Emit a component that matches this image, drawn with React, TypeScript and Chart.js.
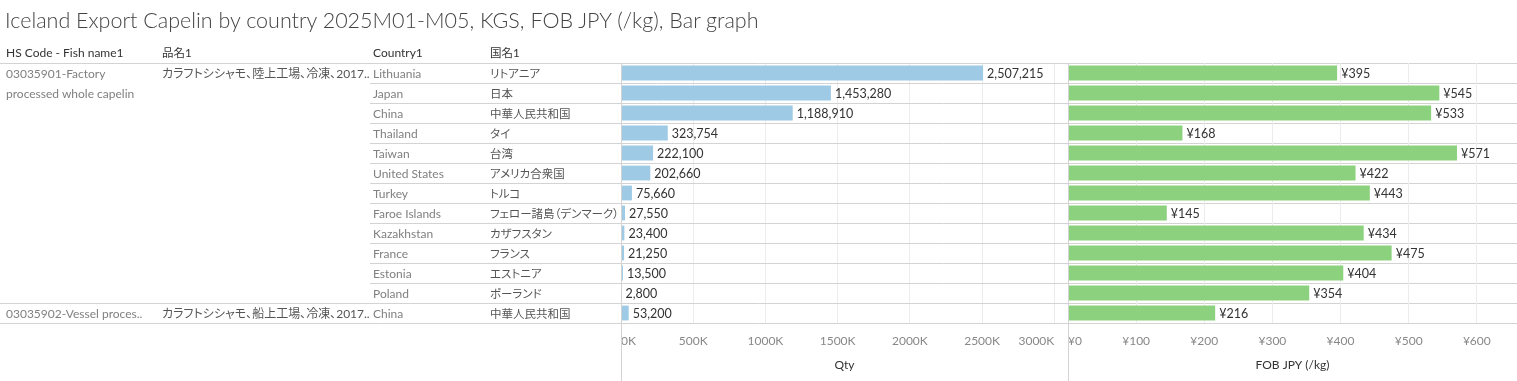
import React, { useEffect, useRef, useState } from 'react';
import { Chart, registerables } from 'chart.js';

Chart.register(...registerables);

// ---------- data ----------
const TITLE = 'Iceland Export Capelin by country 2025M01-M05, KGS, FOB JPY (/kg), Bar graph';
const headers = ['HS Code - Fish name1', '品名1', 'Country1', '国名1'];
const hsCodeLines = [['03035901-Factory', 'processed whole capelin'], ['03035902-Vessel proces..']];
const productNames = ['カラフトシシャモ、陸上工場、冷凍、2017..', 'カラフトシシャモ、船上工場、冷凍、2017..'];
const groupOfRow = [0, 0, 0, 0, 0, 0, 0, 0, 0, 0, 0, 0, 1];
const countries = [
  'Lithuania', 'Japan', 'China', 'Thailand', 'Taiwan', 'United States', 'Turkey',
  'Faroe Islands', 'Kazakhstan', 'France', 'Estonia', 'Poland', 'China',
];
const countriesJa = [
  'リトアニア', '日本', '中華人民共和国', 'タイ', '台湾', 'アメリカ合衆国', 'トルコ',
  'フェロー諸島（デンマーク）', 'カザフスタン', 'フランス', 'エストニア', 'ポーランド', '中華人民共和国',
];
const qty = [2507215, 1453280, 1188910, 323754, 222100, 202660, 75660, 27550, 23400, 21250, 13500, 2800, 53200];
const fobJpy = [395, 545, 533, 168, 571, 422, 443, 145, 434, 475, 404, 354, 216];
const qtyTickValues = [0, 500000, 1000000, 1500000, 2000000, 2500000, 3000000];
const qtyTickLabels = ['0K', '500K', '1000K', '1500K', '2000K', '2500K', '3000K'];
const fobTickValues = [0, 100, 200, 300, 400, 500, 600];
const fobTickLabels = ['¥0', '¥100', '¥200', '¥300', '¥400', '¥500', '¥600'];
const qtyAxisTitle = 'Qty';
const fobAxisTitle = 'FOB JPY (/kg)';

// ---------- layout / style ----------
const W = 1517;
const H = 381;
const TOP = 63;
const AXIS_H = 58;
const PANE_A_LEFT = 621;
const PANE_B_LEFT = 1068;
const QTY_MAX = 3095000;
const FOB_MAX = 659;
const COL_X = [6, 162, 373, 490];
const FONT = "Lato, 'Noto Sans CJK JP', sans-serif";
const BLUE = '#9fcae6';
const GREEN = '#8cd17d';
const LINE = '#d3d3d3';
const GRID = '#ececec';
const CLEAR = 'rgba(0,0,0,0)';

const fmtQty = (v: number) => v.toLocaleString('en-US');
const fmtFob = (v: number) => '¥' + v;

function valueLabels(values: number[], fmt: (v: number) => string) {
  return {
    id: 'valueLabels',
    afterDatasetsDraw(chart: any) {
      const ctx = chart.ctx;
      const meta = chart.getDatasetMeta(0);
      ctx.save();
      ctx.font = `12.5px ${FONT}`;
      ctx.fillStyle = '#333';
      ctx.textAlign = 'left';
      ctx.textBaseline = 'middle';
      meta.data.forEach((bar: any, i: number) => {
        ctx.fillText(fmt(values[i]), bar.x + 4, bar.y + 0.5);
      });
      ctx.restore();
    },
  };
}

const rowLines = {
  id: 'rowLines',
  beforeDatasetsDraw(chart: any) {
    const ctx = chart.ctx;
    const y = chart.scales.y;
    const n = countries.length;
    const half = Math.abs(y.getPixelForValue(1) - y.getPixelForValue(0)) / 2;
    ctx.save();
    ctx.strokeStyle = LINE;
    ctx.lineWidth = 1;
    for (let i = 0; i <= n; i++) {
      const yy = i < n ? y.getPixelForValue(i) - half : y.getPixelForValue(n - 1) + half;
      const full = i === 0 || i === n || groupOfRow[i] !== groupOfRow[i - 1];
      const x0 = full ? 0 : COL_X[2] - 3;
      const py = Math.round(yy) + 0.5;
      ctx.beginPath();
      ctx.moveTo(x0, py);
      ctx.lineTo(W, py);
      ctx.stroke();
    }
    ctx.restore();
  },
};

const paneBorder = {
  id: 'paneBorder',
  afterDraw(chart: any) {
    const ctx = chart.ctx;
    const x = Math.round(chart.chartArea.left) + 0.5;
    ctx.save();
    ctx.strokeStyle = LINE;
    ctx.lineWidth = 1;
    ctx.beginPath();
    ctx.moveTo(x, chart.chartArea.top);
    ctx.lineTo(x, H);
    ctx.stroke();
    ctx.restore();
  },
};

function makeConfig(
  values: number[],
  color: string,
  left: number,
  right: number,
  max: number,
  tickValues: number[],
  tickLabels: string[],
  addEndTick: boolean,
  axisTitle: string,
  fmt: (v: number) => string,
  extraPlugins: any[],
) {
  return {
    type: 'bar' as const,
    data: {
      labels: countries,
      datasets: [
        {
          data: values,
          backgroundColor: color,
          borderWidth: 0,
          barPercentage: 0.74,
          categoryPercentage: 1,
        },
      ],
    },
    options: {
      indexAxis: 'y' as const,
      responsive: false,
      maintainAspectRatio: false,
      animation: false as const,
      devicePixelRatio: 1,
      layout: { padding: { left, right, top: TOP, bottom: 0 } },
      plugins: { legend: { display: false }, tooltip: { enabled: false }, title: { display: false } },
      scales: {
        y: { display: false, offset: true },
        x: {
          type: 'linear' as const,
          min: 0,
          max,
          bounds: 'data' as const,
          position: 'bottom' as const,
          afterBuildTicks: (s: any) => {
            const t = tickValues.map((v) => ({ value: v }));
            if (addEndTick) t.push({ value: max });
            s.ticks = t;
          },
          afterFit: (s: any) => {
            s.height = AXIS_H;
          },
          border: { display: false },
          grid: {
            drawTicks: true,
            tickLength: 11,
            tickColor: CLEAR,
            color: (c: any) => (c.index < tickLabels.length ? GRID : CLEAR),
          },
          ticks: {
            autoSkip: false,
            maxRotation: 0,
            minRotation: 0,
            align: 'inner' as const,
            padding: 0,
            color: '#888',
            font: { family: FONT, size: 12 },
            callback: (_v: any, i: number) => (i < tickLabels.length ? tickLabels[i] : ''),
          },
          title: {
            display: true,
            text: axisTitle,
            color: '#333',
            font: { family: FONT, size: 12 },
            padding: { top: 0, bottom: 9 },
          },
        },
      },
    },
    plugins: [...extraPlugins, valueLabels(values, fmt)],
  };
}

export default function App() {
  const refA = useRef<HTMLCanvasElement | null>(null);
  const refB = useRef<HTMLCanvasElement | null>(null);
  const [rows, setRows] = useState<number[]>([]);

  useEffect(() => {
    if (!refA.current || !refB.current) return;
    const a = new Chart(
      refA.current,
      makeConfig(qty, BLUE, PANE_A_LEFT, W - PANE_B_LEFT, QTY_MAX, qtyTickValues, qtyTickLabels, false, qtyAxisTitle, fmtQty, [rowLines, paneBorder]) as any,
    );
    const b = new Chart(
      refB.current,
      makeConfig(fobJpy, GREEN, PANE_B_LEFT, 0, FOB_MAX, fobTickValues, fobTickLabels, true, fobAxisTitle, fmtFob, [paneBorder]) as any,
    );
    const ys = a.scales.y as any;
    setRows(countries.map((_, i) => ys.getPixelForValue(i)));
    return () => {
      a.destroy();
      b.destroy();
    };
  }, []);

  const textBase: React.CSSProperties = {
    position: 'absolute',
    whiteSpace: 'nowrap',
    fontSize: 12,
    lineHeight: '20px',
    height: 20,
    fontFeatureSettings: '"palt"',
  };
  const latin = '#808080';
  const cjk = '#555';
  const cjkSize = 11.5;

  const groupStarts: number[] = [];
  groupOfRow.forEach((g, i) => {
    if (i === 0 || g !== groupOfRow[i - 1]) groupStarts.push(i);
  });

  return (
    <div
      style={{
        position: 'fixed',
        left: 0,
        top: 0,
        width: W,
        height: H,
        background: '#fff',
        fontFamily: FONT,
        overflow: 'hidden',
      }}
    >
      <canvas ref={refA} width={W} height={H} style={{ position: 'absolute', left: 0, top: 0, width: W, height: H }} />
      <canvas ref={refB} width={W} height={H} style={{ position: 'absolute', left: 0, top: 0, width: W, height: H }} />
      <div
        style={{
          position: 'absolute',
          left: 5,
          top: 6,
          fontSize: 21.5,
          lineHeight: '28px',
          color: '#444',
          fontWeight: 300,
          whiteSpace: 'nowrap',
        }}
      >
        {TITLE}
      </div>
      {headers.map((h, i) => (
        <div key={'h' + i} style={{ ...textBase, left: COL_X[i], top: 43, color: '#333', fontSize: i % 2 ? cjkSize : 12 }}>
          {h}
        </div>
      ))}
      {rows.length > 0 &&
        groupStarts.map((r, gi) => (
          <React.Fragment key={'g' + gi}>
            {hsCodeLines[gi].map((line, li) => (
              <div key={'hs' + li} style={{ ...textBase, left: COL_X[0], top: rows[r] - 9.5 + li * 20, color: latin }}>
                {line}
              </div>
            ))}
            <div style={{ ...textBase, left: COL_X[1], top: rows[r] - 9.5, color: cjk }}>{productNames[gi]}</div>
          </React.Fragment>
        ))}
      {rows.map((y, i) => (
        <React.Fragment key={'r' + i}>
          <div style={{ ...textBase, left: COL_X[2], top: y - 9.5, color: latin }}>{countries[i]}</div>
          <div style={{ ...textBase, left: COL_X[3], top: y - 9.5, color: cjk, fontSize: cjkSize }}>{countriesJa[i]}</div>
        </React.Fragment>
      ))}
    </div>
  );
}
